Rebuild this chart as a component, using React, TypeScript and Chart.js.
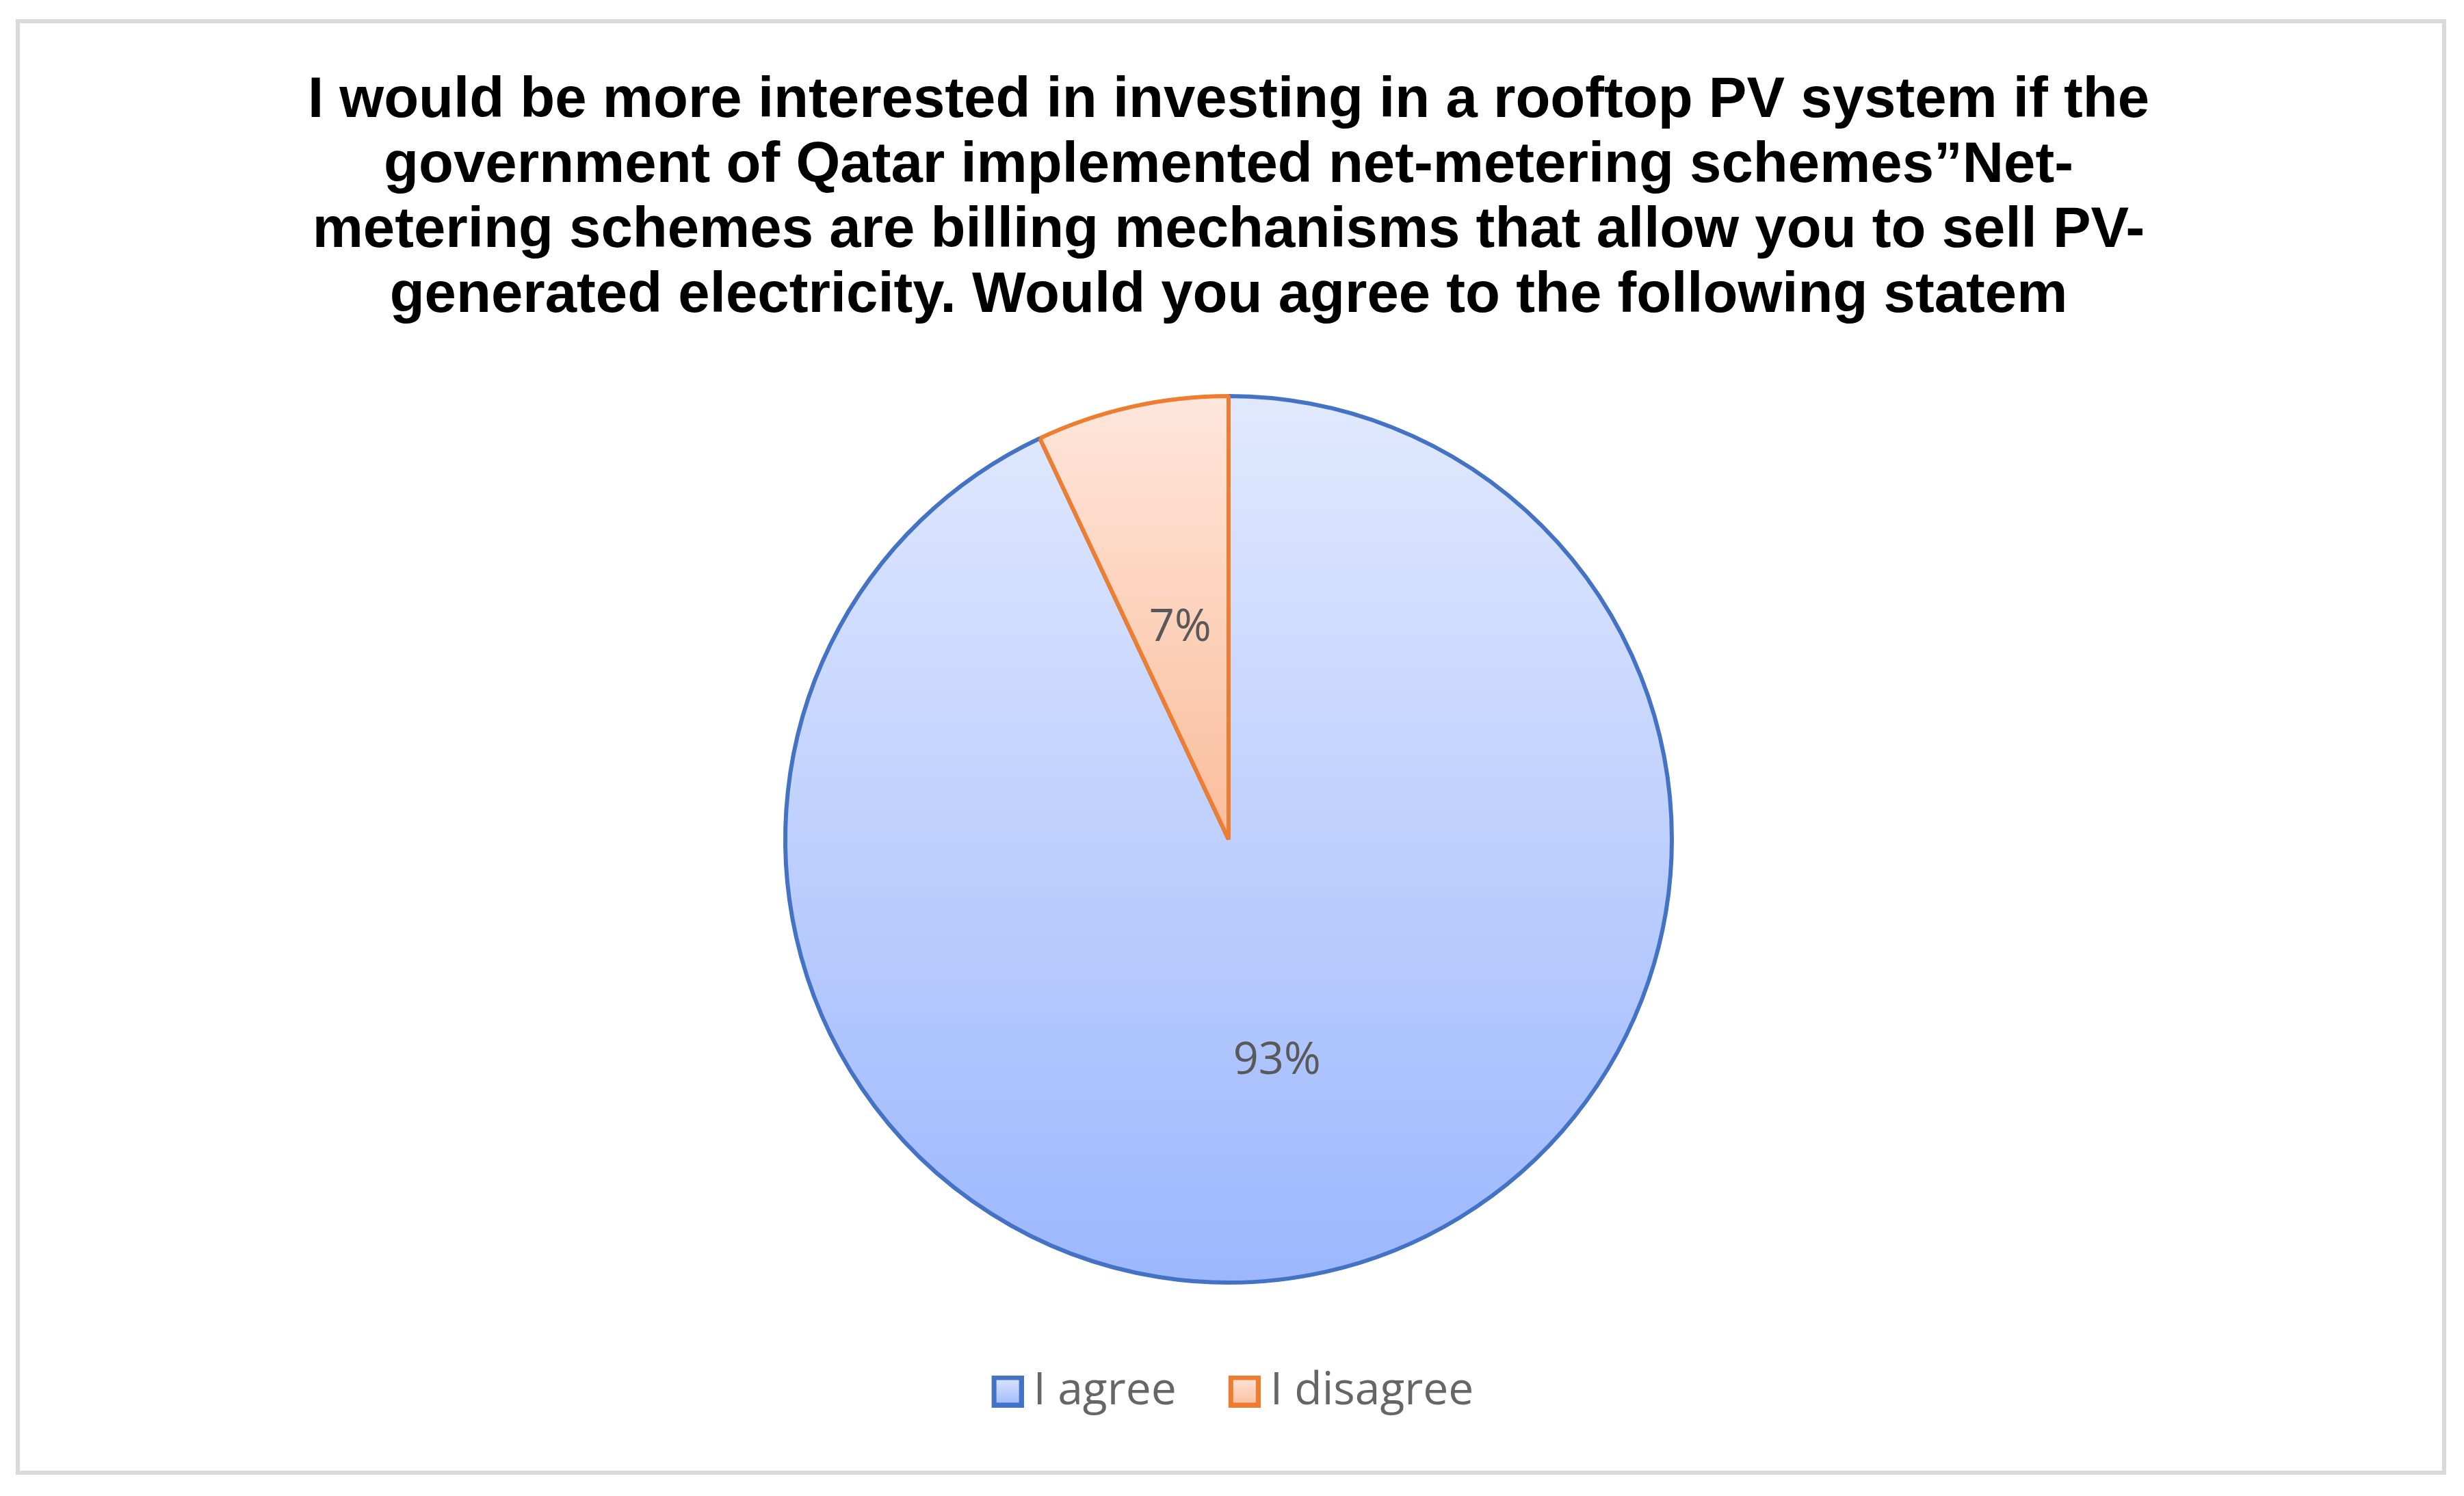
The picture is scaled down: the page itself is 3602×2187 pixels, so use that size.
import React, { useEffect, useRef } from "react";
import { Chart, registerables } from "chart.js";

Chart.register(...registerables);

const titleLines = [
  "I would be more interested in investing in a rooftop PV system if the",
  "government of Qatar implemented net-metering schemes\u201DNet-",
  "metering schemes are billing mechanisms that allow you to sell PV-",
  "generated electricity. Would you agree to the following statem",
];
const categories = ["I agree", "I disagree"];
const values = [93, 7];
const borderColors = ["#4472C4", "#ED7D31"];
const gradientTop = ["#E1E9FE", "#FEE6DC"];
const gradientBottom = ["#9CB7FD", "#FBBD9B"];

const W = 3602;
const H = 2187;

// legend swatch image: transparent left part, bordered gradient box on the right
function makeSwatch(i: number): HTMLCanvasElement {
  const c = document.createElement("canvas");
  const sw = 47;
  const lead = 31;
  c.width = lead + sw;
  c.height = sw;
  const ctx = c.getContext("2d")!;
  const g = ctx.createLinearGradient(0, 0, 0, sw);
  g.addColorStop(0, gradientTop[i]);
  g.addColorStop(1, gradientBottom[i]);
  ctx.fillStyle = g;
  ctx.fillRect(lead + 3.5, 3.5, sw - 7, sw - 7);
  ctx.strokeStyle = borderColors[i];
  ctx.lineWidth = 7;
  ctx.strokeRect(lead + 3.5, 3.5, sw - 7, sw - 7);
  return c;
}

const framePlugin = {
  id: "frame",
  beforeDraw(chart: any) {
    const ctx = chart.ctx;
    ctx.save();
    ctx.fillStyle = "#FFFFFF";
    ctx.fillRect(0, 0, chart.width, chart.height);
    ctx.strokeStyle = "#D9D9D9";
    ctx.lineWidth = 6;
    ctx.strokeRect(26, 31, 3547, 2122);
    ctx.restore();
  },
};

const labelPlugin = {
  id: "pieLabels",
  afterDatasetsDraw(chart: any) {
    const ctx = chart.ctx;
    const meta = chart.getDatasetMeta(0);
    const data = chart.data.datasets[0].data as number[];
    const total = data.reduce((a, b) => a + b, 0);
    ctx.save();
    ctx.font = '65px "Open Sans"';
    ctx.fillStyle = "#595959";
    ctx.textAlign = "center";
    ctx.textBaseline = "middle";
    meta.data.forEach((arc: any, i: number) => {
      const p = arc.tooltipPosition();
      ctx.fillText(Math.round((data[i] / total) * 100) + "%", p.x, p.y + 8);
    });
    ctx.restore();
  },
};

export default function App() {
  const ref = useRef<HTMLCanvasElement | null>(null);
  useEffect(() => {
    if (!ref.current) return;
    const swatches = categories.map((_, i) => makeSwatch(i));
    const chart = new Chart(ref.current, {
      type: "pie",
      data: {
        labels: categories,
        datasets: [
          {
            data: values,
            borderColor: borderColors,
            borderWidth: 6,
            hoverOffset: 0,
            backgroundColor: (context: any) => {
              const chart = context.chart;
              const area = chart.chartArea;
              const i = context.dataIndex;
              if (!area) return gradientTop[i];
              const meta = chart.getDatasetMeta(0);
              const arc: any = meta.data[i];
              const cy = arc && arc.y ? arc.y : (area.top + area.bottom) / 2;
              const r = arc && arc.outerRadius ? arc.outerRadius : (area.bottom - area.top) / 2;
              const top = cy - r;
              const bottom = i === 0 ? cy + r : cy;
              const g = chart.ctx.createLinearGradient(0, top, 0, bottom);
              g.addColorStop(0, gradientTop[i]);
              g.addColorStop(1, gradientBottom[i]);
              return g;
            },
          },
        ],
      },
      options: {
        responsive: false,
        animation: false,
        devicePixelRatio: 1,
        layout: { padding: { left: 0, right: 10, top: 0, bottom: 110 } },
        plugins: {
          title: {
            display: true,
            text: titleLines,
            color: "#000000",
            font: { family: "'Liberation Sans', Arial, sans-serif", weight: "bold", size: 83.4, lineHeight: 95 / 83.4 },
            padding: { top: 100, bottom: 96 },
          },
          legend: {
            display: true,
            position: "bottom",
            title: {
              display: true,
              text: " ",
              font: { size: 10, lineHeight: 1 },
              padding: { top: 49, bottom: 0 },
            },
            labels: {
              color: "#7F7F7F",
              font: { family: "'Open Sans', sans-serif", size: 66 },
              usePointStyle: true,
              boxWidth: 40,
              boxHeight: 40,
              padding: 64,
              generateLabels: () =>
                categories.map((c, i) => ({
                  text: c,
                  fillStyle: gradientTop[i],
                  strokeStyle: borderColors[i],
                  lineWidth: 7,
                  pointStyle: swatches[i],
                  hidden: false,
                  index: i,
                  datasetIndex: 0,
                })),
            },
          },
          tooltip: { enabled: false },
        },
      } as any,
      plugins: [framePlugin, labelPlugin],
    });
    return () => chart.destroy();
  }, []);
  return (
    <div style={{ position: "fixed", left: 0, top: 0, width: W, height: H, background: "#fff" }}>
      <canvas ref={ref} width={W} height={H} style={{ width: W, height: H, display: "block" }} />
    </div>
  );
}
